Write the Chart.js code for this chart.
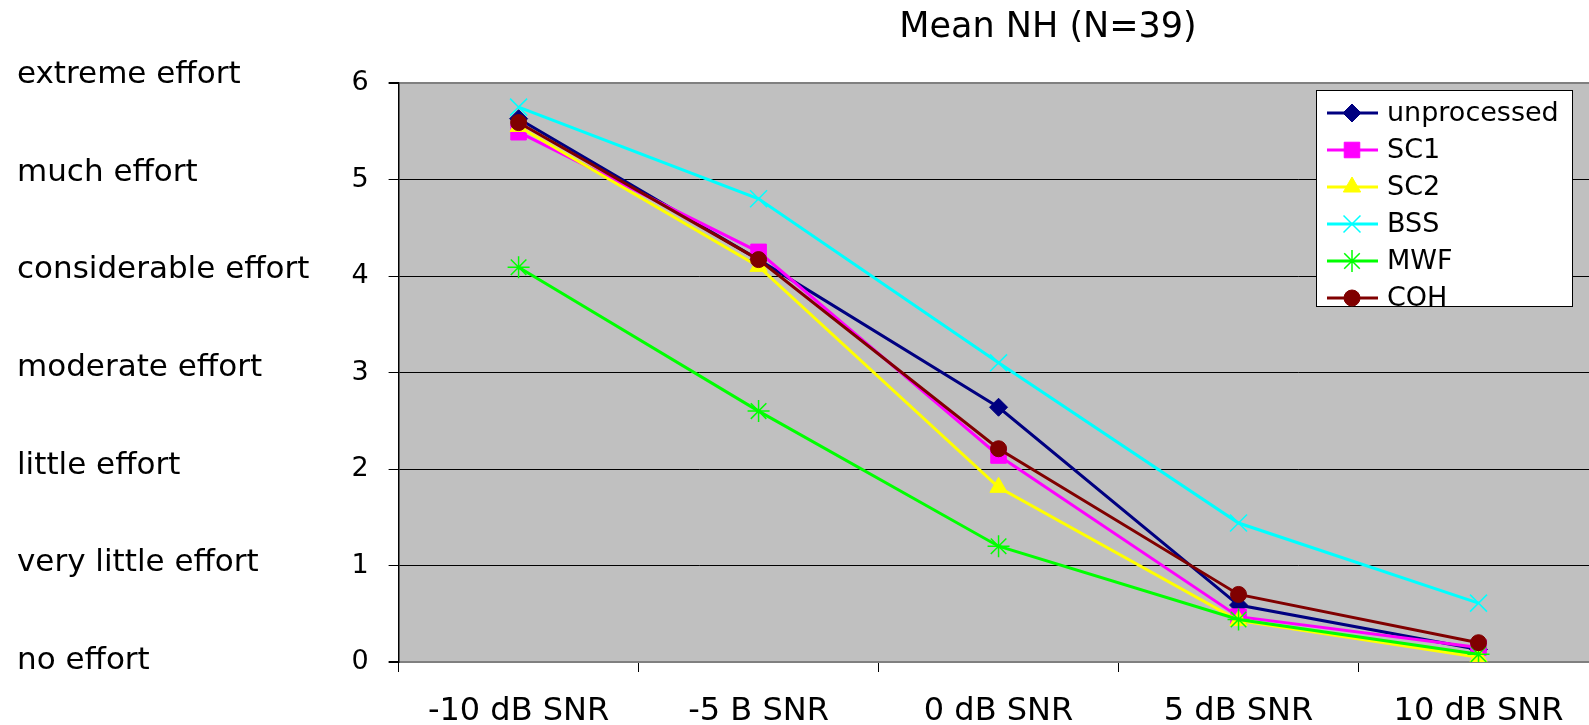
<!DOCTYPE html>
<html>
<head>
<meta charset="utf-8">
<script src="https://cdn.jsdelivr.net/npm/chart.js@4/dist/chart.umd.min.js"></script>
<style>
  html, body { margin: 0; padding: 0; background: #fff; overflow: hidden; }
  #wrap { width: 1612px; height: 725px; }
</style>
</head>
<body>
<div id="wrap"><canvas id="myChart" width="1612" height="725"></canvas></div>
<script>
// data
var categories = ['-10 dB SNR', '-5 B SNR', '0 dB SNR', '5 dB SNR', '10 dB SNR'];
var effortLabels = ['no effort', 'very little effort', 'little effort', 'moderate effort',
                    'considerable effort', 'much effort', 'extreme effort'];

var unprocessed = [5.63, 4.17, 2.64, 0.59, 0.13];
var sc1         = [5.49, 4.25, 2.14, 0.47, 0.15];
var sc2         = [5.55, 4.10, 1.81, 0.43, 0.05];
var bss         = [5.75, 4.80, 3.10, 1.44, 0.61];
var mwf         = [4.09, 2.60, 1.20, 0.44, 0.08];
var coh         = [5.59, 4.17, 2.21, 0.70, 0.20];

var FONT = 'DejaVu Sans';
Chart.defaults.font.family = FONT;
Chart.defaults.color = '#000';

function series(label, data, color, style, radius, order) {
    var filled = (style == 'crossRot' || style == 'star') ? false : true;
    return {
        label: label,
        data: data,
        borderColor: color,
        backgroundColor: color,
        borderWidth: 3,
        tension: 0,
        pointStyle: style,
        pointRadius: radius,
        pointHoverRadius: radius,
        pointBackgroundColor: color,
        pointBorderColor: color,
        pointBorderWidth: filled ? 1 : 1.5,
        order: order
    };
}

// plot area fill
var plotBg = {
    id: 'plotBg',
    beforeDraw: function(chart) {
        var a = chart.chartArea, ctx = chart.ctx;
        ctx.save();
        ctx.fillStyle = '#C0C0C0';
        ctx.fillRect(a.left, a.top, a.right - a.left, a.bottom - a.top);
        ctx.restore();
    }
};

// title sits off-centre like the original
var topTitle = {
    id: 'topTitle',
    afterDraw: function(chart) {
        var ctx = chart.ctx;
        ctx.save();
        ctx.font = '35px "' + FONT + '"';
        ctx.fillStyle = '#000';
        ctx.textAlign = 'center';
        ctx.textBaseline = 'middle';
        ctx.fillText('Mean NH (N=39)', 1048, 28);
        ctx.restore();
    }
};

// boxed legend with line + marker samples
var boxLegend = {
    id: 'boxLegend',
    afterDraw: function(chart) {
        var ctx = chart.ctx;
        var x0 = 1316, y0 = 90, w = 256, h = 216;
        ctx.save();
        ctx.fillStyle = '#fff';
        ctx.fillRect(x0, y0, w, h);
        ctx.strokeStyle = '#000';
        ctx.lineWidth = 1;
        ctx.strokeRect(x0 + 0.5, y0 + 0.5, w, h);
        chart.data.datasets.forEach(function(ds, i) {
            var y = 113 + i * 37;
            ctx.strokeStyle = ds.borderColor;
            ctx.lineWidth = 3;
            ctx.beginPath();
            ctx.moveTo(1327, y);
            ctx.lineTo(1378, y);
            ctx.stroke();
            ctx.fillStyle = ds.pointBackgroundColor;
            ctx.strokeStyle = ds.pointBorderColor;
            ctx.lineWidth = ds.pointBorderWidth;
            Chart.helpers.drawPoint(ctx, {
                pointStyle: ds.pointStyle, rotation: 0,
                radius: ds.pointRadius, borderWidth: ds.pointBorderWidth
            }, 1352, y);
            ctx.fillStyle = '#000';
            ctx.font = '27px "' + FONT + '"';
            ctx.textAlign = 'left';
            ctx.textBaseline = 'middle';
            ctx.fillText(ds.label, 1387, y + 1);
        });
        ctx.restore();
    }
};

var ctx = document.getElementById('myChart').getContext('2d');
var chart = new Chart(ctx, {
    type: 'line',
    data: {
        labels: categories,
        datasets: [
            series('unprocessed', unprocessed, '#000080', 'rectRot', 9, 6),
            series('SC1', sc1, '#FF00FF', 'rect', 11, 5),
            series('SC2', sc2, '#FFFF00', 'triangle', 10, 4),
            series('BSS', bss, '#00FFFF', 'crossRot', 12, 3),
            series('MWF', mwf, '#00FF00', 'star', 11, 2),
            series('COH', coh, '#800000', 'circle', 8, 1)
        ]
    },
    options: {
        responsive: false,
        animation: false,
        devicePixelRatio: 1,
        // axis padding is counted twice when Chart.js sizes an axis, hence the odd numbers
        layout: { padding: { left: 17, right: 2, top: 83, bottom: -26 } },
        plugins: {
            legend: { display: false },
            title: { display: false },
            tooltip: { enabled: false }
        },
        scales: {
            x: {
                type: 'category',
                offset: true,
                grid: {
                    offset: true,
                    drawOnChartArea: false,
                    drawTicks: true,
                    tickLength: 10,
                    tickColor: '#000'
                },
                border: { color: '#808080', width: 2 },
                ticks: {
                    font: { size: 32, lineHeight: 1 },
                    padding: 23.5,
                    maxRotation: 0,
                    autoSkip: false
                }
            },
            y: {
                type: 'linear',
                position: 'left',
                weight: 0,
                min: 0,
                max: 6,
                ticks: { stepSize: 1, font: { size: 27 }, padding: 20 },
                grid: {
                    color: function(c) {
                        return (c.tick && (c.tick.value == 6 || c.tick.value == 0)) ? '#808080' : '#000';
                    },
                    lineWidth: function(c) {
                        return (c.tick && (c.tick.value == 6 || c.tick.value == 0)) ? 2 : 1;
                    },
                    tickColor: '#000',
                    tickLength: 10
                },
                border: { color: '#000', width: 1.5 }
            },
            // the verbal scale is spaced a touch wider than the numbers in the original
            effort: {
                type: 'linear',
                position: 'left',
                weight: 1,
                min: -0.0102,
                max: 5.918,
                afterBuildTicks: function(scale) {
                    scale.ticks = effortLabels.map(function(l, i) { return { value: i }; });
                },
                grid: { display: false, drawTicks: false, tickLength: 0 },
                border: { display: false },
                ticks: {
                    font: { size: 31 },
                    padding: 11,
                    crossAlign: 'far',
                    callback: function(v) { return effortLabels[v]; }
                }
            }
        }
    },
    plugins: [plotBg, topTitle, boxLegend]
});
</script>
</body>
</html>
